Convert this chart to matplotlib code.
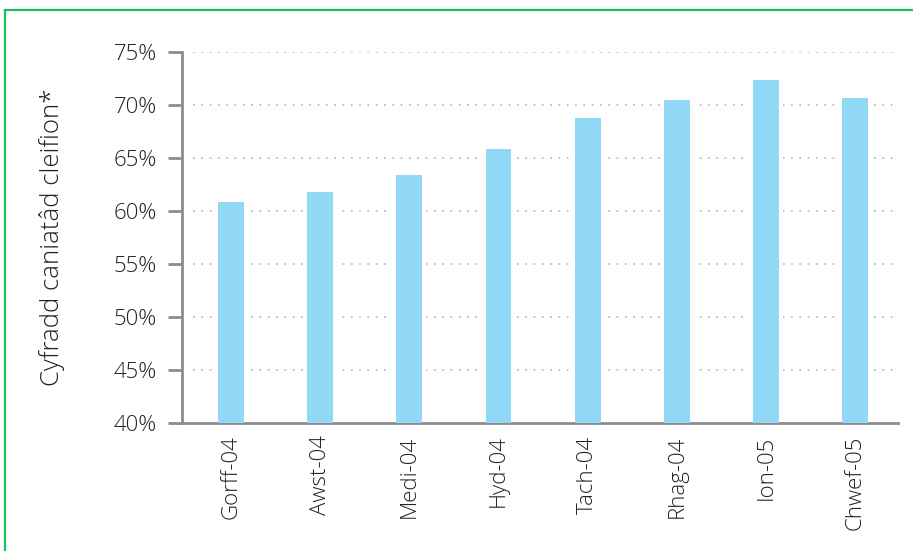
import matplotlib
matplotlib.use("Agg")
import matplotlib.pyplot as plt
from matplotlib.lines import Line2D

plt.rcParams["font.family"] = ["Open Sans", "DejaVu Sans"]
plt.rcParams["font.weight"] = "light"
plt.rcParams["axes.labelweight"] = "light"

# 数据
months = ["Gorff-04", "Awst-04", "Medi-04", "Hyd-04",
          "Tach-04", "Rhag-04", "Ion-05", "Chwef-05"]
rates = [60.8, 61.8, 63.4, 65.8, 68.7, 70.4, 72.3, 70.6]
y_ticks = [40, 45, 50, 55, 60, 65, 70, 75]
y_label = "Cyfradd caniatâd cleifion*"

W, H = 913, 551
fig = plt.figure(figsize=(W / 100, H / 100), dpi=100)
ax = fig.add_axes([182 / W, 1 - 423 / H, (898 - 182) / W, (423 - 51.5) / H])

x = list(range(len(months)))
# 白色底条，让网格线在柱子两侧断开
ax.bar(x, rates, width=0.38, color="white", zorder=2)
ax.bar(x, rates, width=0.29, color="#92d9f7", zorder=3)

# 虚线网格
for t in y_ticks[1:]:
    ax.plot([0.015, 0.995], [t, t], transform=ax.get_yaxis_transform(),
            color="#bdbdbd", lw=1.3, linestyle=(0, (1.0, 3.6)), zorder=1)

ax.set_xlim(-0.55, 7.48)
ax.set_ylim(40, 75)
ax.set_yticks(y_ticks)
ax.set_yticklabels([f"{t}%" for t in y_ticks])
ax.set_xticks(x)
ax.set_xticklabels(months, rotation=90)

for s in ["top", "right"]:
    ax.spines[s].set_visible(False)
for s in ["left", "bottom"]:
    ax.spines[s].set_color("#8c8c8c")
    ax.spines[s].set_linewidth(2)

ax.tick_params(axis="y", length=10, width=2, color="#8c8c8c", pad=8,
               labelsize=16, labelcolor="#222222")
ax.tick_params(axis="x", length=0, pad=9, labelsize=16, labelcolor="#222222")

ax.set_ylabel(y_label, fontsize=18.5, color="#222222", fontweight="light")
ax.yaxis.set_label_coords(-0.164, 0.5)

# 绿色边框（只有上边和左边）
fig.add_artist(Line2D([4.5 / W, 1], [1 - 10 / H, 1 - 10 / H],
                      transform=fig.transFigure, color="#1dbf5a", lw=1.6))
fig.add_artist(Line2D([4.5 / W, 4.5 / W], [0, 1 - 10 / H],
                      transform=fig.transFigure, color="#1dbf5a", lw=1.6))

fig.savefig("out.png", dpi=100)
